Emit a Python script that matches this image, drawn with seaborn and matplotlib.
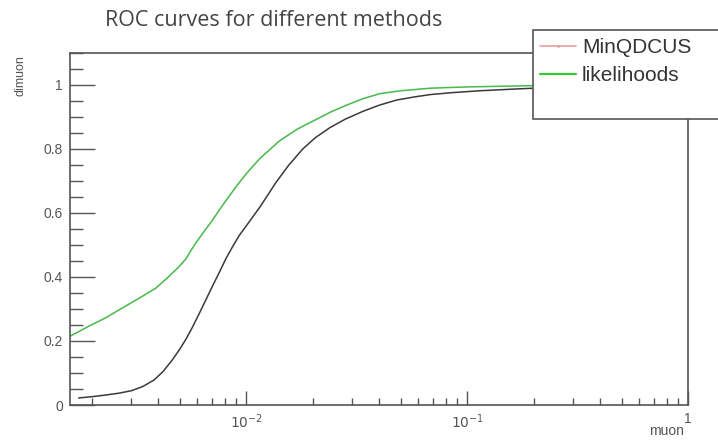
import matplotlib
matplotlib.use("Agg")
import matplotlib.pyplot as plt
import matplotlib.ticker as mticker
from matplotlib.lines import Line2D
from matplotlib.patches import Rectangle
import seaborn as sns
import pandas as pd

# MinQDCUS ROC curve (muon efficiency vs dimuon efficiency)
minq_muon = [1.74e-3, 2.0e-3, 2.3e-3, 2.65e-3, 3.03e-3, 3.4e-3, 3.82e-3, 4.2e-3,
             4.61e-3, 5.0e-3, 5.32e-3, 5.7e-3, 6.11e-3, 6.55e-3, 7.03e-3, 7.55e-3,
             8.09e-3, 8.7e-3, 9.29e-3, 1.0e-2, 1.08e-2, 1.15e-2, 1.25e-2, 1.36e-2,
             1.55e-2, 1.8e-2, 2.05e-2, 2.38e-2, 2.8e-2, 3.38e-2, 4.0e-2, 4.79e-2,
             5.8e-2, 6.79e-2, 0.085, 0.114, 0.16, 0.2, 0.3, 0.5, 1.0]
minq_dimuon = [0.022, 0.026, 0.031, 0.037, 0.045, 0.058, 0.078, 0.105,
               0.140, 0.175, 0.205, 0.243, 0.285, 0.328, 0.372, 0.415,
               0.458, 0.497, 0.530, 0.560, 0.592, 0.618, 0.656, 0.695,
               0.748, 0.800, 0.835, 0.866, 0.893, 0.918, 0.937, 0.953,
               0.963, 0.970, 0.976, 0.982, 0.987, 0.990, 0.993, 0.996, 1.0]

# likelihoods ROC curve
lik_muon = [1.57e-3, 1.75e-3, 1.93e-3, 2.3e-3, 2.74e-3, 3.2e-3, 3.89e-3, 4.4e-3,
            4.95e-3, 5.32e-3, 5.6e-3, 5.9e-3, 6.4e-3, 7.03e-3, 7.5e-3, 8.09e-3,
            9.0e-3, 9.97e-3, 1.15e-2, 1.41e-2, 1.7e-2, 2.0e-2, 2.4e-2, 2.84e-2,
            3.4e-2, 4.03e-2, 5.0e-2, 6.79e-2, 0.1, 0.2, 0.5, 1.0]
lik_dimuon = [0.213, 0.230, 0.246, 0.272, 0.303, 0.330, 0.365, 0.398,
              0.432, 0.456, 0.482, 0.506, 0.540, 0.578, 0.607, 0.639,
              0.683, 0.722, 0.770, 0.825, 0.862, 0.887, 0.915, 0.937,
              0.958, 0.973, 0.982, 0.990, 0.994, 0.998, 0.999, 1.0]

labels = ["MinQDCUS", "likelihoods"]

df = pd.concat([
    pd.DataFrame({"muon": minq_muon, "dimuon": minq_dimuon, "method": labels[0]}),
    pd.DataFrame({"muon": lik_muon, "dimuon": lik_dimuon, "method": labels[1]}),
])

sns.set_style("ticks")
plt.rcParams['font.family'] = ['Liberation Sans', 'DejaVu Sans']

fig = plt.figure(figsize=(7.18, 4.4), dpi=100)
ax = fig.add_axes([70 / 718, 1 - 405 / 440, 618 / 718, 352 / 440])

sns.lineplot(data=df, x="muon", y="dimuon", hue="method", sort=False,
             palette={labels[0]: "#3a3a3a", labels[1]: "#46b94a"},
             linewidth=1.1, legend=False, ax=ax, estimator=None)

ax.set_xscale("log")
ax.set_xlim(1.59e-3, 1.0)
ax.set_ylim(0, 1.1)

frame_col = "#555555"
for s in ax.spines.values():
    s.set_color(frame_col)
    s.set_linewidth(1.2)

ax.xaxis.set_major_locator(mticker.FixedLocator([1e-2, 1e-1, 1.0]))
ax.xaxis.set_major_formatter(mticker.FixedFormatter(["$10^{-2}$", "$10^{-1}$", "1"]))
ax.xaxis.set_minor_locator(mticker.LogLocator(base=10, subs=range(2, 10)))
ax.xaxis.set_minor_formatter(mticker.NullFormatter())
ax.yaxis.set_major_locator(mticker.MultipleLocator(0.2))
ax.yaxis.set_major_formatter(mticker.FuncFormatter(lambda v, p: f"{v:g}"))
ax.yaxis.set_minor_locator(mticker.MultipleLocator(0.05))

ax.tick_params(which="both", direction="in", color=frame_col, width=1.0,
               labelcolor="#555555", labelsize=10)
ax.tick_params(axis="y", which="major", length=18, pad=5)
ax.tick_params(axis="y", which="minor", length=9)
ax.tick_params(axis="x", which="major", length=10, pad=5)
ax.tick_params(axis="x", which="minor", length=5)
ax.set_xlabel("")
ax.set_ylabel("")

# legend box sticking out of the frame, as in the ROOT canvas
fig.patches.append(Rectangle((533 / 718, 1 - 119 / 440), 200 / 718, 89 / 440,
                             transform=fig.transFigure, facecolor="white",
                             edgecolor=frame_col, linewidth=1.2, zorder=5))
handles = [Line2D([], [], color="#e8a0a0", linewidth=1.2, marker=".", markersize=2,
                  markerfacecolor="#a05050"),
           Line2D([], [], color="#33cc33", linewidth=1.6)]
leg = fig.legend(handles, labels, loc="upper left", bbox_to_anchor=(536 / 718, 1 - 34 / 440),
                 frameon=False, fontsize=15, handlelength=1.7, handletextpad=0.3,
                 labelspacing=0.42, borderaxespad=0, borderpad=0.2)
leg.set_zorder(6)
for t in leg.get_texts():
    t.set_color("#333333")

fig.text(105 / 718, 1 - 21 / 440, "ROC curves for different methods", ha="left",
         va="center", fontsize=15.5, color="#444444", family=["Open Sans", "DejaVu Sans"])
fig.text(20 / 718, 1 - 55 / 440, "dimuon", rotation=90, ha="center", va="top",
         fontsize=9, color="#555555")
fig.text(684 / 718, 1 - 431 / 440, "muon", ha="right", va="center",
         fontsize=10, color="#555555")

fig.savefig("out.png", dpi=100)
